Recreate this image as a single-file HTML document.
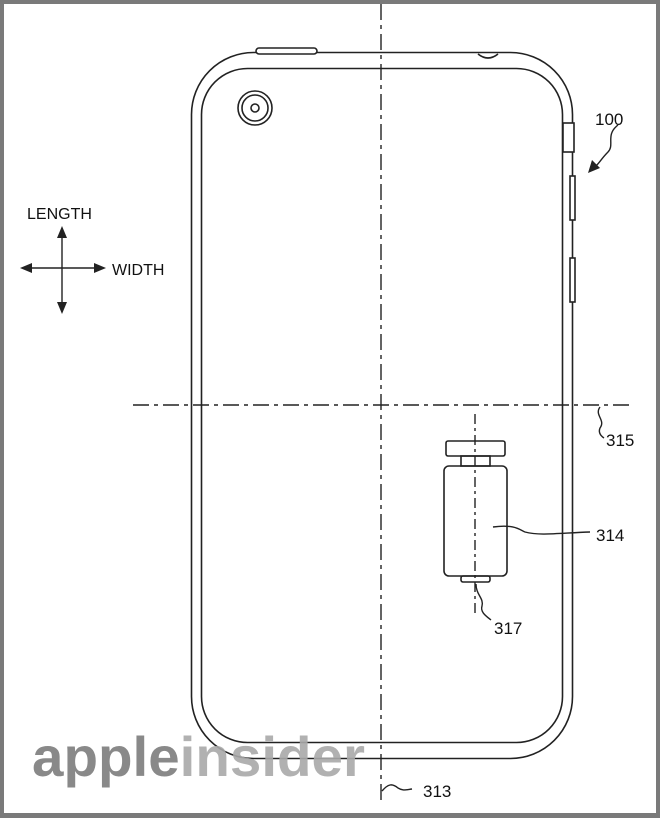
<!DOCTYPE html>
<html><head><style>
html,body{margin:0;padding:0;background:#fff}
svg{display:block}
</style></head><body>
<svg width="660" height="818" viewBox="0 0 660 818" xmlns="http://www.w3.org/2000/svg" font-family="Liberation Sans, sans-serif">
<rect x="0" y="0" width="660" height="818" fill="#7a7a7a"/>
<rect x="4" y="4" width="652" height="809" fill="#fff"/>
<g fill="none" stroke="#222" stroke-width="1.6">
<rect x="191.5" y="52.5" width="381" height="706" rx="62" ry="62"/>
<rect x="201.5" y="68.5" width="361" height="674" rx="46" ry="46"/>
<rect x="256" y="48" width="61" height="6" rx="3" fill="#fff"/>
<path d="M478 54 Q488 62 498 54"/>
<circle cx="255" cy="108" r="17"/><circle cx="255" cy="108" r="13"/><circle cx="255" cy="108" r="4"/>
<rect x="563" y="123" width="11" height="29" fill="#fff"/>
<rect x="570" y="176" width="5" height="44" fill="#fff"/>
<rect x="570" y="258" width="5" height="44" fill="#fff"/>
<rect x="446" y="441" width="59" height="15" rx="2"/>
<rect x="461" y="456" width="29" height="10"/>
<rect x="444" y="466" width="63" height="110" rx="5"/>
<rect x="461" y="576" width="29" height="6" rx="2"/>
</g>
<g stroke="#222" stroke-width="1.4" fill="none">
<line x1="381" y1="4" x2="381" y2="802" stroke-dasharray="16,5,4,5"/>
<line x1="133" y1="405" x2="632" y2="405" stroke-dasharray="16,5,4,5"/>
<line x1="475" y1="414" x2="475" y2="614" stroke-dasharray="10,4,3,4"/>
<path d="M618 125 C605 135 615 145 608 152 C602 158 600 162 596 166"/>
<path d="M600 407 C594 415 606 420 600 428 C598 433 601 436 604 438"/>
<path d="M493 527 C515 524 520 530 525 532 C540 536 560 533 590 532"/>
<path d="M476 584 C476 595 484 598 482 606 C480 612 486 616 491 620"/>
<path d="M382 791 C388 784 392 783 398 788 C403 791 405 790 412 789"/>
<path d="M62 232 V304 M26 268 H100"/>
</g>
<g fill="#222">
<polygon points="588,173 592,160 600,168"/>
<polygon points="62,226 57,238 67,238"/><polygon points="62,314 57,302 67,302"/>
<polygon points="20,268 32,263 32,273"/><polygon points="106,268 94,263 94,273"/>
</g>
<g fill="#111" font-size="17">
<text x="595" y="125">100</text>
<text x="606" y="446">315</text>
<text x="596" y="541">314</text>
<text x="494" y="634">317</text>
<text x="423" y="797">313</text>
<text x="27" y="219" font-size="16">LENGTH</text>
<text x="112" y="275" font-size="16">WIDTH</text>
</g>
<text x="32" y="776" font-size="56" font-weight="bold" textLength="333" lengthAdjust="spacingAndGlyphs" fill="#7d7d7d" opacity="0.9">apple<tspan fill="#a9a9a9">insider</tspan></text>
</svg>
</body></html>
